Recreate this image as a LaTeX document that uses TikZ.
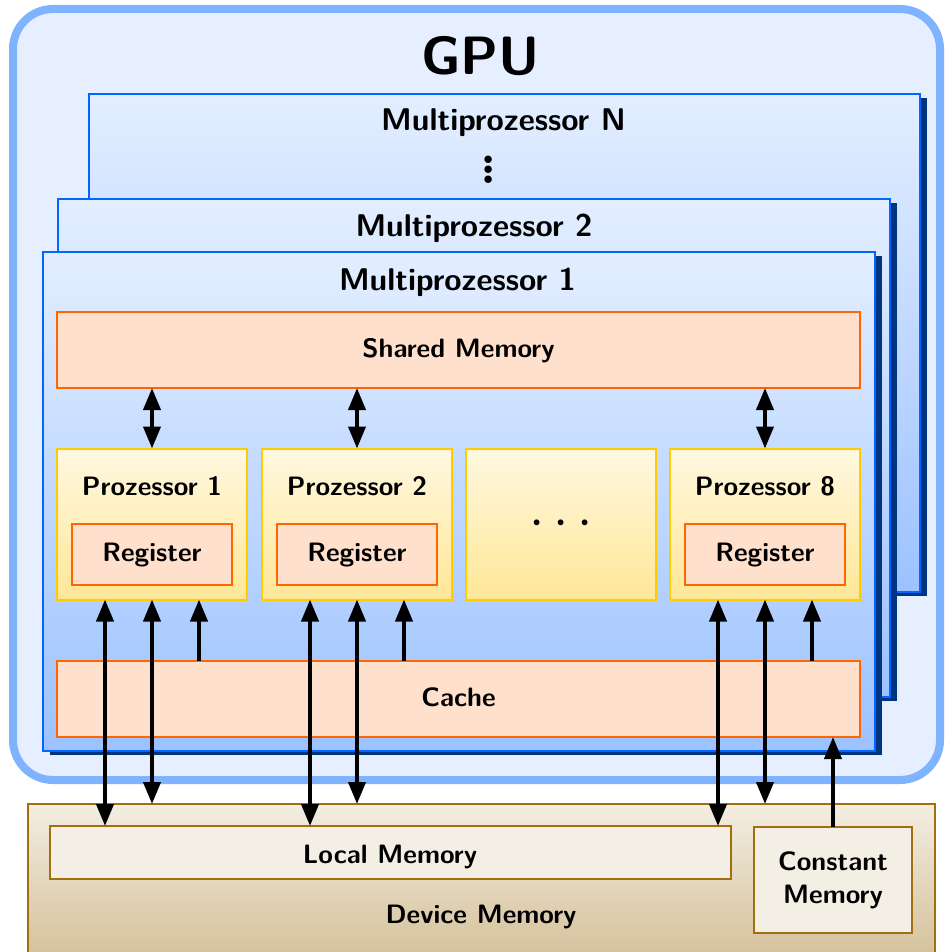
\documentclass[tikz,border=0pt]{standalone}
\usepackage{graphicx}
\usetikzlibrary{arrows.meta,calc,shadows}
\definecolor{gpufill}{HTML}{E5EFFF}
\definecolor{gpuline}{HTML}{80B3FF}
\definecolor{mpline}{HTML}{0066FF}
\definecolor{mptop}{HTML}{E3EEFF}
\definecolor{mpbot}{HTML}{9CC2FF}
\definecolor{mpshadow}{HTML}{003380}
\definecolor{memfill}{HTML}{FFE0CC}
\definecolor{memline}{HTML}{FF6600}
\definecolor{proctop}{HTML}{FFF8E2}
\definecolor{procbot}{HTML}{FFE796}
\definecolor{procline}{HTML}{FFCC00}
\definecolor{devtop}{HTML}{F3EDE2}
\definecolor{devbot}{HTML}{D5C19B}
\definecolor{devline}{HTML}{A0700F}
\definecolor{locfill}{HTML}{F4EFE5}
\begin{document}
\begin{tikzpicture}[x=1pt,y=-1pt,
  every node/.style={inner sep=0pt,outer sep=0pt,
    font=\sffamily\bfseries\fontsize{26.6}{33}\selectfont},
  sz/.style 2 args={minimum width=#1pt,minimum height=#2pt},
  gpubox/.style={draw=gpuline,fill=gpufill,line width=8pt,rounded corners=40pt},
  mpbox/.style={draw=mpline,line width=2pt,top color=mptop,bottom color=mpbot,
    drop shadow={shadow xshift=7pt,shadow yshift=-4pt,fill=mpshadow,opacity=1}},
  membox/.style={draw=memline,fill=memfill,line width=2pt,text height=19pt,text depth=5pt},
  procbox/.style={draw=procline,line width=2pt,top color=proctop,bottom color=procbot},
  devbox/.style={draw=devline,line width=2pt,top color=devtop,bottom color=devbot},
  locbox/.style={draw=devline,fill=locfill,line width=2pt},
  title/.style={anchor=base,font=\sffamily\bfseries\fontsize{31.4}{36}\selectfont},
  lbl/.style={anchor=base},
  dbl/.style={line width=4pt,{Triangle[length=22pt,width=17pt]}-{Triangle[length=22pt,width=17pt]}},
  one/.style={line width=4pt,-{Triangle[length=22pt,width=17pt]}}]
\useasboundingbox (0,0) rectangle (944,952);

% GPU
\node[gpubox,sz={927}{771}] (gpu) at (476.5,394.5) {};
\node[anchor=base,font=\sffamily\bfseries\fontsize{54}{60}\selectfont] (gput) at (480.5,75) {GPU};

% Multiprocessors
\node[mpbox,sz={831}{498}] (mpN) at (504.5,343) {};
\node[title] (mpNt) at (503.5,131) {Multiprozessor N};
\node[font=\rmfamily\bfseries\huge] (vd) at (489,162) {\scalebox{2.5}{$\vdots$}};
\node[mpbox,sz={832}{498}] (mp2) at (474,448) {};
\node[title] (mp2t) at (474,236) {Multiprozessor 2};
\node[mpbox,sz={832}{499}] (mp1) at (459,501.5) {};
\node[title] (mp1t) at (457.5,290) {Multiprozessor 1};

% Shared memory
\node[membox,sz={803}{76}] (shared) at (458.5,350) {Shared Memory};

% Processors
\node[procbox,sz={190}{151}] (p1) at (152,524) {};
\node[procbox,sz={190}{151}] (p2) at (357,524) {};
\node[procbox,sz={190}{151}] (p3) at (561,524) {\raisebox{-4pt}{\scalebox{2.2}{\Huge$\cdots$}}};
\node[procbox,sz={190}{151}] (p8) at (765,524) {};
\node[lbl] (p1t) at (152,495) {Prozessor 1};
\node[lbl] (p2t) at (357,495) {Prozessor 2};
\node[lbl] (p8t) at (765,495) {Prozessor 8};
\node[membox,sz={160}{61}] (r1) at (152,554.5) {Register};
\node[membox,sz={160}{61}] (r2) at (357,554.5) {Register};
\node[membox,sz={160}{61}] (r8) at (765,554.5) {Register};

% Cache
\node[membox,sz={803}{76}] (cache) at (458.5,699) {Cache};

% Device memory
\node[devbox,sz={907}{153}] (dev) at (481.5,880.5) {};
\node[lbl] (devt) at (481,923) {Device Memory};
\node[locbox,sz={681}{53}] (local) at (390.5,852.5) {};
\node[lbl] (localt) at (390,863) {Local Memory};
\node[locbox,sz={158}{106},align=center] (const) at (833,880) {Constant\\Memory};

% Arrows shared <-> processors
\draw[dbl] (shared.south -| p1.north) -- (p1.north);
\draw[dbl] (shared.south -| p2.north) -- (p2.north);
\draw[dbl] (shared.south -| p8.north) -- (p8.north);

% Arrows below processors
\foreach \p in {p1,p2,p8}{
  \draw[dbl] ([xshift=-47pt]\p.south) -- ([xshift=-47pt]\p.south |- local.north);
  \draw[dbl] (\p.south) -- (\p.south |- dev.north);
  \draw[one] ([xshift=47pt]\p.south |- cache.north) -- ([xshift=47pt]\p.south);
}
\draw[one] (const.north) -- (const.north |- cache.south);
\end{tikzpicture}
\end{document}
